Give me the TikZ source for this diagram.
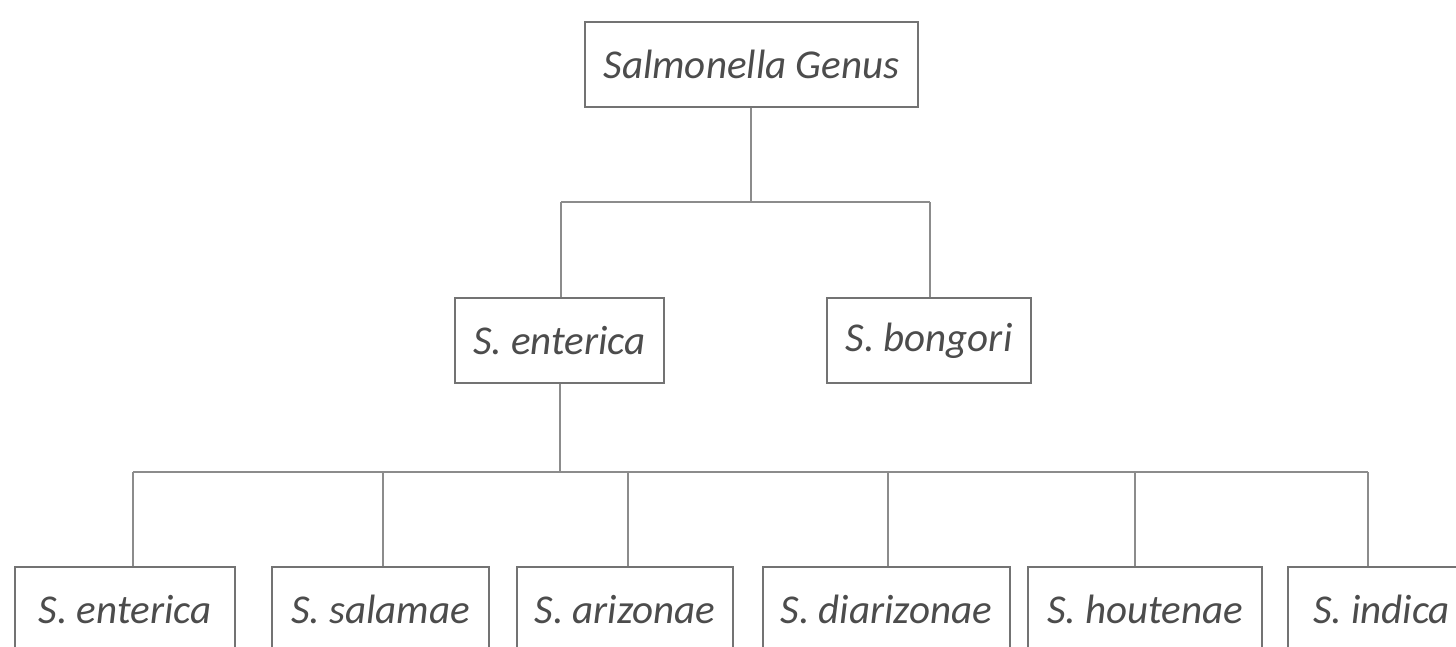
\documentclass[tikz,border=0pt]{standalone}
\usepackage{fontspec}
\setmainfont{Carlito}
\begin{document}
\begin{tikzpicture}[x=1pt,y=-1pt,
  box/.style={draw=black!55, line width=1.3pt, fill=white, inner sep=0pt,
    minimum height=85pt, font=\fontsize{41}{47}\selectfont\itshape, text=black!70},
  link/.style={draw=black!45, line width=1.1pt}]
\useasboundingbox (0,0) rectangle (1456,646);
\clip (0,0) rectangle (1456,646);
% top
\node[box, minimum width=333pt] (g) at (751.5,64.5) {Salmonella Genus};
% level 2
\node[box, minimum width=209pt] (se) at (559.5,340.5) {S. enterica};
\node[box, minimum width=204pt] (sb) at (929,340.5) {S. bongori};
% level 3
\node[box, minimum width=220pt] (b1) at (125,609.5) {S. enterica};
\node[box, minimum width=217pt] (b2) at (380.5,609.5) {S. salamae};
\node[box, minimum width=216pt] (b3) at (625,609.5) {S. arizonae};
\node[box, minimum width=247pt] (b4) at (886.5,609.5) {S. diarizonae};
\node[box, minimum width=234pt] (b5) at (1145,609.5) {S. houtenae};
\node[box, minimum width=187pt] (b6) at (1381.5,609.5) {S. indica};
% connectors level 1
\coordinate (j1) at (751,202);
\coordinate (j1l) at (561,202);
\coordinate (j1r) at (930,202);
\draw[link] (g.south -| j1) -- (j1);
\draw[link] (j1l) -- (j1r);
\draw[link] (j1l) -- (j1l |- se.north);
\draw[link] (j1r) -- (j1r |- sb.north);
% connectors level 2
\coordinate (j2) at (560,472);
\coordinate (j2l) at (133,472);
\coordinate (j2r) at (1368,472);
\draw[link] (se.south -| j2) -- (j2);
\draw[link] (j2l) -- (j2r);
\draw[link] (j2l) -- (j2l |- b1.north);
\draw[link] ([xshift=2.5pt]b2.north |- j2) -- ([xshift=2.5pt]b2.north);
\draw[link] ([xshift=3pt]b3.north |- j2) -- ([xshift=3pt]b3.north);
\draw[link] ([xshift=1.5pt]b4.north |- j2) -- ([xshift=1.5pt]b4.north);
\draw[link] ([xshift=-10pt]b5.north |- j2) -- ([xshift=-10pt]b5.north);
\draw[link] (j2r) -- (j2r |- b6.north);
\end{tikzpicture}
\end{document}
